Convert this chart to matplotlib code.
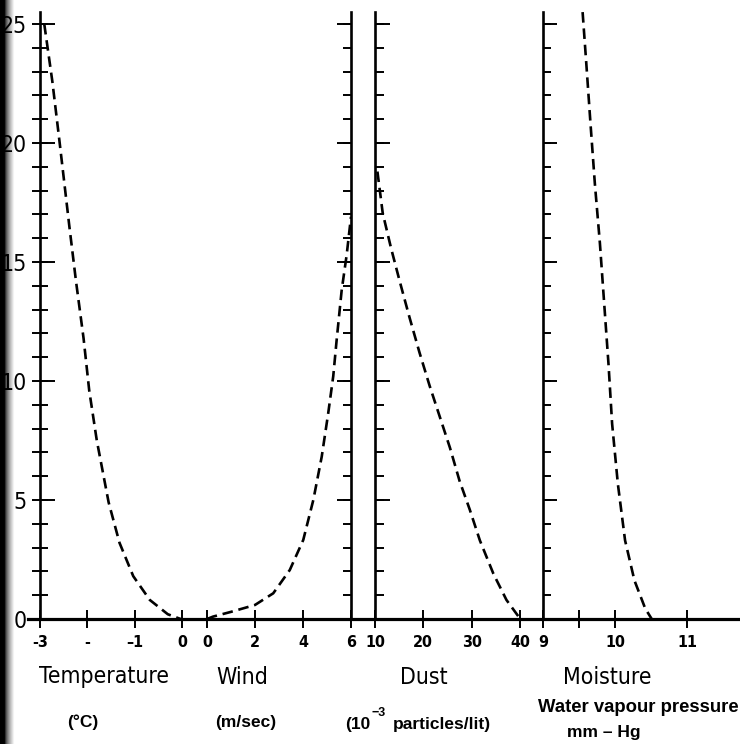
import numpy as np
import matplotlib
matplotlib.use("Agg")
import matplotlib.pyplot as plt
from matplotlib.lines import Line2D
from matplotlib.ticker import MultipleLocator

# readings (height in arbitrary units 0..25)
temp_c = [-2.91, -2.74, -2.59, -2.38, -2.24, -2.08, -1.96, -1.80, -1.55, -1.32, -1.03, -0.68, -0.30, -0.03]
temp_h = [25.0, 22.6, 20.1, 16.5, 14.2, 11.8, 9.6, 7.5, 4.9, 3.2, 1.8, 0.8, 0.2, 0.0]

wind_v = [0.0, 0.25, 1.0, 2.0, 2.76, 3.45, 4.01, 4.43, 4.78, 5.05, 5.26, 5.40, 5.61, 5.82, 6.0]
wind_h = [0.0, 0.1, 0.3, 0.59, 1.08, 2.06, 3.32, 5.0, 6.82, 8.64, 10.2, 11.7, 13.8, 15.3, 16.9]

dust_n = [10.5, 11.6, 13.3, 15.1, 17.1, 19.2, 21.3, 23.4, 25.5, 27.5, 29.6, 31.7, 34.5, 37.2, 39.7, 40.3]
dust_h = [18.8, 17.05, 15.6, 14.2, 12.7, 11.2, 9.8, 8.5, 7.2, 5.8, 4.6, 3.3, 1.9, 0.8, 0.1, 0.0]

moist_p = [9.55, 9.60, 9.66, 9.72, 9.79, 9.85, 9.91, 9.96, 10.04, 10.14, 10.27, 10.42, 10.51]
moist_h = [25.5, 23.4, 20.8, 18.3, 15.8, 13.25, 10.7, 8.2, 5.67, 3.3, 1.62, 0.44, 0.0]

temp_ticks = [-3, -2, -1, 0]
temp_labels = ['-3', '-', '\u20131', '0']
wind_ticks = [0, 2, 4, 6]
wind_labels = ['0', '2', '4', '6']
dust_ticks = [10, 20, 30, 40]
dust_labels = ['10', '20', '30', '40']
moist_ticks = [9, 9.5, 10, 11]
moist_labels = ['9', '', '10', '11']
height_ticks = [0, 5, 10, 15, 20, 25]

W, H = 740, 744
NARROW = dict(fontfamily=['Liberation Sans Narrow', 'DejaVu Sans'], fontstretch='condensed')
PLAIN = ['Liberation Sans', 'DejaVu Sans']
Y_MAX = 25.5


def fx(px):
    return px / W


def fy(py):
    return 1 - py / H


fig = plt.figure(figsize=(W / 100, H / 100), dpi=100)
fig.patch.set_facecolor('white')

# dark scan edge on the left, kept behind everything
bax = fig.add_axes([0, 0, fx(16), 1])
bax.set_zorder(-5)
g = np.linspace(0, 1, 80)
shade = np.clip((g - 0.3) / 0.6, 0, 1) ** 0.6
bax.imshow(shade[np.newaxis, :], cmap='gray', vmin=0, vmax=1, aspect='auto')
bax.axis('off')

y0 = fy(619)
ah = fy(12.1) - y0


def panel(left_px, right_px, xlim, xticks, xlabels):
    ax = fig.add_axes([fx(left_px), y0, fx(right_px - left_px), ah])
    ax.set_xlim(xlim)
    ax.set_ylim(0, Y_MAX)
    ax.patch.set_visible(False)
    for s in ax.spines.values():
        s.set_visible(False)
    ax.set_xticks(xticks)
    ax.set_xticklabels(xlabels, fontweight='bold', fontsize=11.5, **NARROW)
    ax.tick_params(axis='x', direction='inout', length=13.5, width=1.4, pad=5)
    ax.yaxis.set_major_locator(MultipleLocator(5))
    ax.yaxis.set_minor_locator(MultipleLocator(1))
    ax.yaxis.remove_overlapping_locs = False
    return ax


dash = dict(color='black', lw=1.9, dashes=(4, 2.2))

# temperature, with the shared height scale on its left
ax_t = panel(40, 182, (-3, 0), temp_ticks, temp_labels)
ax_t.spines['left'].set_visible(True)
ax_t.spines['left'].set_linewidth(1.9)
ax_t.set_yticks(height_ticks)
ax_t.set_yticklabels([str(v) for v in height_ticks], fontsize=16.5, **NARROW)
ax_t.tick_params(axis='y', which='major', direction='in', length=11, width=1.4, pad=9.4)
ax_t.tick_params(axis='y', which='minor', direction='inout', length=11, width=1.4)
ax_t.plot(temp_c, temp_h, **dash)

# wind
ax_w = panel(207, 351, (0, 6), wind_ticks, wind_labels)
ax_w.spines['right'].set_visible(True)
ax_w.spines['right'].set_linewidth(1.9)
ax_w.yaxis.tick_right()
ax_w.tick_params(axis='y', which='major', direction='in', length=10, width=1.4, labelright=False)
ax_w.tick_params(axis='y', which='minor', direction='in', length=5.8, width=1.4)
ax_w.plot(wind_v, wind_h, **dash)

# dust
ax_d = panel(375, 520, (10, 40), dust_ticks, dust_labels)
ax_d.spines['left'].set_visible(True)
ax_d.spines['left'].set_linewidth(1.9)
ax_d.tick_params(axis='y', which='major', direction='in', length=10.5, width=1.4, labelleft=False)
ax_d.tick_params(axis='y', which='minor', direction='in', length=6.3, width=1.4)
ax_d.plot(dust_n, dust_h, **dash)

# moisture
ax_m = panel(543, 687, (9, 11), moist_ticks, moist_labels)
ax_m.spines['left'].set_visible(True)
ax_m.spines['left'].set_linewidth(1.9)
ax_m.tick_params(axis='y', which='major', direction='in', length=10, width=1.4, labelleft=False)
ax_m.tick_params(axis='y', which='minor', direction='in', length=5.8, width=1.4)
ax_m.plot(moist_p, moist_h, **dash)

# common base line
fig.add_artist(Line2D([fx(28), 1.0], [y0, y0], color='black', lw=2.3,
                      transform=fig.transFigure))

# panel names
for txt, cx in [('Temperature', 104), ('Wind', 242), ('Dust', 424), ('Moisture', 607)]:
    fig.text(fx(cx), fy(677), txt, ha='center', va='center', fontsize=16.5, **NARROW)

# units
unit = dict(fontfamily=PLAIN, fontweight='bold', fontsize=12.5)
fig.text(fx(83), fy(722), '(\u00b0C)', ha='center', va='center', **unit)
fig.text(fx(246), fy(722), '(m/sec)', ha='center', va='center', **unit)
fig.text(fx(370), fy(724), '(10', ha='right', va='center', **unit)
fig.text(fx(371), fy(713), '\u2212' + '3', ha='left', va='center',
         fontfamily=PLAIN, fontweight='bold', fontsize=9)
fig.text(fx(393), fy(725), 'particles/lit)', ha='left', va='center', **unit)
fig.text(fx(638), fy(707), 'Water vapour pressure', ha='center', va='center',
         fontfamily=PLAIN, fontweight='bold', fontsize=13.3)
fig.text(fx(604), fy(732), 'mm \u2013 Hg', ha='center', va='center', **unit)

fig.savefig('out.png', dpi=100, facecolor='white')
